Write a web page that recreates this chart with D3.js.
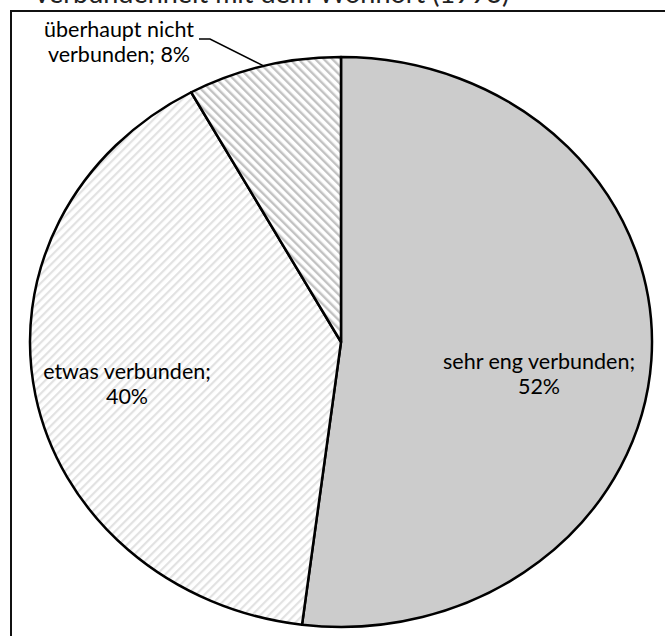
<!DOCTYPE html>
<html>
<head>
<meta charset="utf-8">
<script src="https://cdn.jsdelivr.net/npm/d3@7"></script>
<style>
  body { margin: 0; background: #fff; }
  svg { display: block; }
  text { font-family: Lato, "Open Sans", sans-serif; fill: #000; }
</style>
</head>
<body>
<svg id="chart" width="665" height="636"></svg>
<script>
// data
const categories = ["sehr eng verbunden", "etwas verbunden", "überhaupt nicht verbunden"];
const shares = [52, 40, 8];
const percentLabels = ["52%", "40%", "8%"];
const chartTitle = "Verbundenheit mit dem Wohnort (1993)";

const svg = d3.select('#chart');
const cx = 341, cy = 342, rx = 311, ry = 285;

// fills: solid grey, light "/" hatch, darker "\" hatch
const defs = svg.append('defs');
function hatch(id, angle, color, w) {
  const p = defs.append('pattern')
    .attr('id', id)
    .attr('patternUnits', 'userSpaceOnUse')
    .attr('width', 6).attr('height', 6)
    .attr('patternTransform', 'rotate(' + angle + ')');
  p.append('rect').attr('width', 6).attr('height', 6).attr('fill', '#fff');
  p.append('rect').attr('width', w).attr('height', 6).attr('fill', color);
}
hatch('hatchLight', 45, '#e2e2e2', 2.2);
hatch('hatchDark', -45, '#c2c2c2', 2.4);

const fill = d3.scaleOrdinal()
  .domain(categories)
  .range(['#cccccc', 'url(#hatchLight)', 'url(#hatchDark)']);

// title, mostly cut off by the top of the picture
svg.append('text')
  .attr('x', 271).attr('y', 3)
  .attr('text-anchor', 'middle')
  .style('font-size', '27px')
  .style('fill', '#222')
  .text(chartTitle);

// frame (runs off the right and bottom edge)
svg.append('rect')
  .attr('x', 11).attr('y', 11)
  .attr('width', 700).attr('height', 700)
  .attr('fill', 'none')
  .attr('stroke', '#111')
  .attr('stroke-width', 2);

const arcs = d3.pie().sort(null).value(d => d)(shares);

// point on the (slightly wide) pie outline
function pt(a, f) {
  return [cx + rx * f * Math.sin(a), cy - ry * f * Math.cos(a)];
}
function slicePath(d) {
  const p0 = pt(d.startAngle, 1), p1 = pt(d.endAngle, 1);
  const large = d.endAngle - d.startAngle > Math.PI ? 1 : 0;
  return 'M' + cx + ',' + cy + 'L' + p0 + 'A' + rx + ',' + ry + ' 0 ' + large + ' 1 ' + p1 + 'Z';
}

svg.append('g')
  .selectAll('path')
  .data(arcs)
  .enter().append('path')
  .attr('d', slicePath)
  .attr('fill', (d, i) => fill(categories[i]))
  .attr('stroke', '#000')
  .attr('stroke-width', 2.5)
  .attr('stroke-linejoin', 'round');

// labels
const labelLines = [
  [categories[0] + ';', percentLabels[0]],
  ['etwas verbunden;', percentLabels[1]],
  ['überhaupt nicht', 'verbunden; ' + percentLabels[2]]
];
const labelPos = [[539, 369], [127, 379], [119, 37]];

const labels = svg.append('g').style('font-size', '21.5px');
labelLines.forEach((lines, i) => {
  const t = labels.append('text')
    .attr('text-anchor', 'middle')
    .attr('x', labelPos[i][0]).attr('y', labelPos[i][1]);
  lines.forEach((s, j) => {
    t.append('tspan')
      .attr('x', labelPos[i][0])
      .attr('dy', j ? 25 : 0)
      .text(s);
  });
});

// leader line for the small slice
const small = arcs[2];
const tip = pt((small.startAngle + small.endAngle) / 2, 1);
svg.append('path')
  .attr('d', d3.line()([[199, 39], [210, 39], tip]))
  .attr('fill', 'none')
  .attr('stroke', '#000')
  .attr('stroke-width', 1.5);
</script>
</body>
</html>
